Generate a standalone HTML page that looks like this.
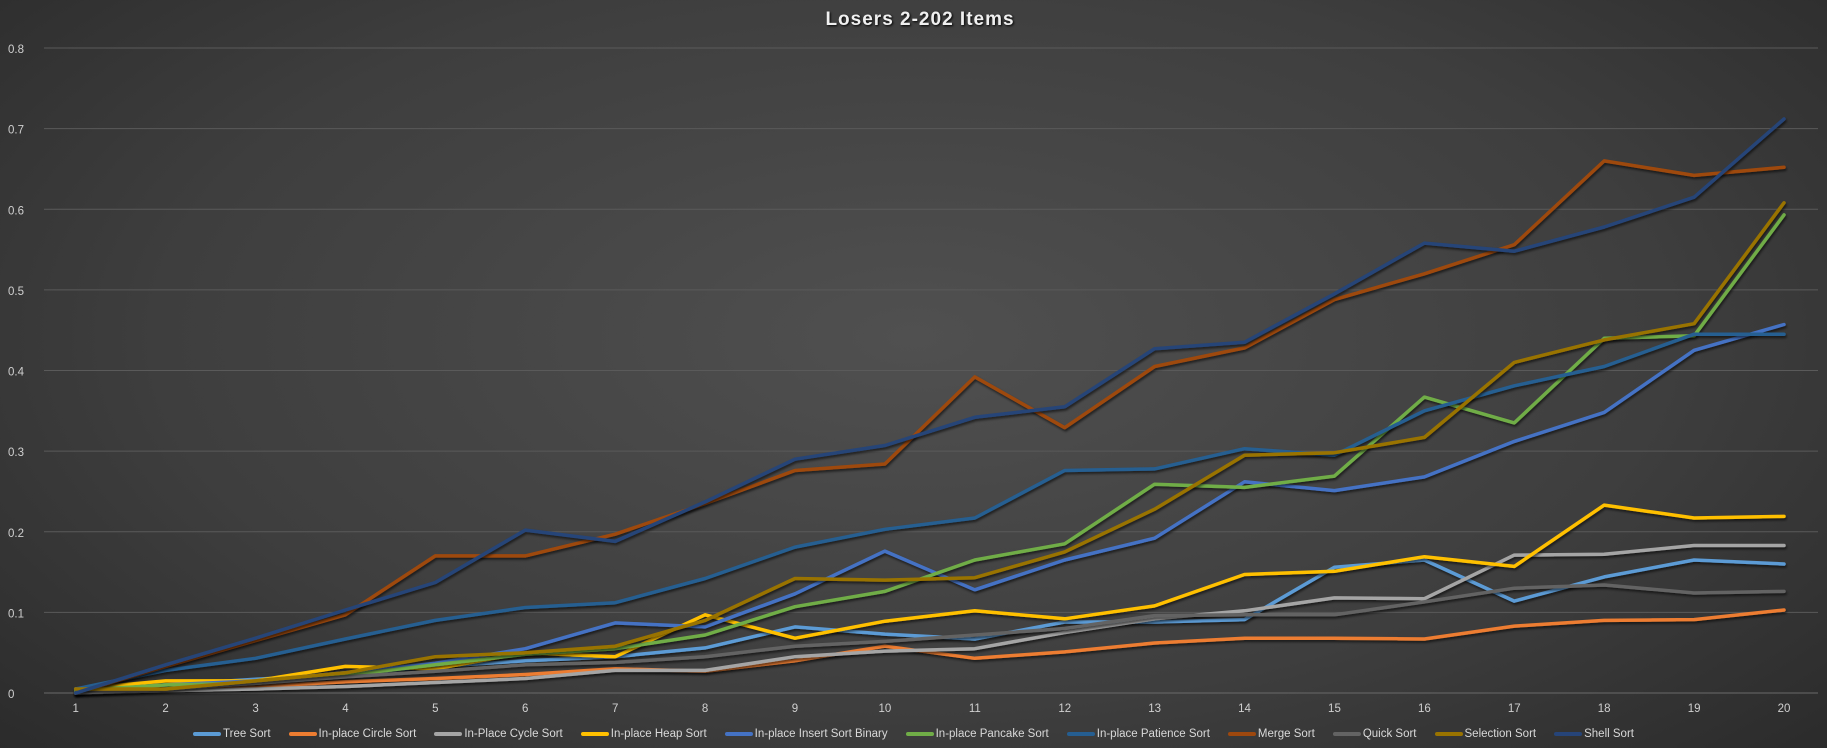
<!DOCTYPE html>
<html><head><meta charset="utf-8"><style>
html,body{margin:0;padding:0;}
body{width:1827px;height:748px;overflow:hidden;background:radial-gradient(ellipse 75% 90% at 50% 45%,#505050 0%,#3e3e3e 55%,#262626 100%);font-family:"Liberation Sans",sans-serif;}
#title{position:absolute;left:0;width:1840px;top:9px;text-align:center;color:#f0f0f0;font-weight:bold;font-size:19px;letter-spacing:1px;text-shadow:1px 1px 2px #000;}
#legend{position:absolute;left:0;width:1827px;top:728px;display:flex;justify-content:center;gap:0 18px;color:#d9d9d9;font-size:11.5px;}
.li{display:flex;align-items:center;}
.sw{width:28px;height:4px;margin-right:2px;border-radius:2px;}
</style></head><body>
<div id="title">Losers 2-202 Items</div>
<svg id="chart" width="1827" height="748" style="position:absolute;left:0;top:0"></svg>
<div id="legend"></div>
<script>
const categories=[1,2,3,4,5,6,7,8,9,10,11,12,13,14,15,16,17,18,19,20];
const yTicks=[0,0.1,0.2,0.3,0.4,0.5,0.6,0.7,0.8];
const seriesNames=["Tree Sort","In-place Circle Sort","In-Place Cycle Sort","In-place Heap Sort","In-place Insert Sort Binary","In-place Pancake Sort","In-place Patience Sort","Merge Sort","Quick Sort","Selection Sort","Shell Sort"];
const seriesColors=["#5b9bd5","#ed7d31","#a5a5a5","#ffc000","#4472c4","#70ad47","#255e91","#9e480e","#636363","#997300","#264478"];
const treeSort=[0.002,0.01,0.017,0.023,0.033,0.04,0.045,0.056,0.082,0.073,0.067,0.088,0.088,0.091,0.156,0.165,0.114,0.144,0.165,0.16];
const circleSort=[0,0.005,0.008,0.014,0.018,0.023,0.03,0.027,0.04,0.058,0.043,0.051,0.062,0.068,0.068,0.067,0.083,0.09,0.091,0.103];
const cycleSort=[0,0.003,0.005,0.008,0.013,0.018,0.028,0.028,0.045,0.052,0.055,0.075,0.092,0.102,0.118,0.117,0.171,0.172,0.183,0.183];
const heapSort=[0.005,0.015,0.015,0.033,0.03,0.05,0.045,0.097,0.068,0.089,0.102,0.092,0.108,0.147,0.151,0.169,0.157,0.233,0.217,0.219];
const insertBinary=[0.002,0.01,0.015,0.025,0.037,0.055,0.087,0.082,0.123,0.176,0.128,0.165,0.192,0.262,0.251,0.268,0.312,0.348,0.425,0.457];
const pancakeSort=[0.003,0.01,0.012,0.022,0.035,0.048,0.055,0.072,0.107,0.126,0.165,0.185,0.259,0.255,0.269,0.367,0.335,0.44,0.443,0.593];
const patienceSort=[0.005,0.028,0.043,0.067,0.09,0.106,0.112,0.142,0.181,0.203,0.217,0.276,0.278,0.303,0.295,0.35,0.381,0.405,0.445,0.445];
const mergeSort=[0,0.033,0.065,0.097,0.17,0.17,0.197,0.235,0.276,0.284,0.392,0.329,0.405,0.428,0.488,0.52,0.556,0.66,0.642,0.652];
const quickSort=[0,0.005,0.012,0.02,0.027,0.035,0.038,0.045,0.058,0.064,0.072,0.08,0.096,0.097,0.097,0.113,0.13,0.134,0.124,0.126];
const selectionSort=[0.005,0.005,0.015,0.025,0.045,0.05,0.058,0.09,0.142,0.14,0.143,0.175,0.228,0.295,0.298,0.317,0.41,0.438,0.458,0.608];
const shellSort=[0,0.035,0.068,0.103,0.137,0.202,0.188,0.237,0.29,0.307,0.342,0.355,0.427,0.435,0.495,0.558,0.548,0.578,0.615,0.712];
const seriesData=[treeSort,circleSort,cycleSort,heapSort,insertBinary,pancakeSort,patienceSort,mergeSort,quickSort,selectionSort,shellSort];

const NS="http://www.w3.org/2000/svg";
const svg=document.getElementById('chart');
const X0=75.7,X1=1784,Y0=693,Y1=48,PL=44,PR=1818;
function xs(i){return X0+(X1-X0)*i/(categories.length-1);}
function ys(v){return Y0-(Y0-Y1)*v/0.8;}
function mk(t,a){const e=document.createElementNS(NS,t);for(const k in a)e.setAttribute(k,a[k]);svg.appendChild(e);return e;}
yTicks.forEach(v=>{
  const l=mk('line',{x1:PL,x2:PR,y1:ys(v),y2:ys(v),stroke:v===0?'#6a6a6a':'#5a5a5a','stroke-width':1});
  
  
  const t=mk('text',{x:8,y:ys(v)+5,fill:'#d0d0d0','font-size':11.5,'font-family':'Liberation Sans, sans-serif'});
  t.textContent=String(v);
  
  
});
categories.forEach((c,i)=>{
  const t=mk('text',{x:xs(i),y:712,fill:'#d0d0d0','font-size':11.5,'text-anchor':'middle','font-family':'Liberation Sans, sans-serif'});
  t.textContent=String(c);
  
  
});
const sh=mk('defs',{});
sh.innerHTML='<filter id="sd" x="-5%" y="-5%" width="110%" height="120%"><feDropShadow dx="1" dy="2" stdDeviation="1.2" flood-color="#000" flood-opacity="0.6"/></filter>';
seriesData.forEach((d,s)=>{
  const pts=d.map((v,i)=>xs(i).toFixed(1)+','+ys(v).toFixed(1)).join(' ');
  const p=mk('polyline',{points:pts,fill:'none',stroke:seriesColors[s],'stroke-width':3.5,'stroke-linejoin':'round','stroke-linecap':'round',filter:'url(#sd)'});
  
  
});
const lg=document.getElementById('legend');
seriesNames.forEach((n,s)=>{
  const d=document.createElement('div');d.className='li';
  
  
  d.innerHTML='<span class="sw" style="background:'+seriesColors[s]+'"></span>'+n;
  lg.appendChild(d);
});
</script>
</body></html>
